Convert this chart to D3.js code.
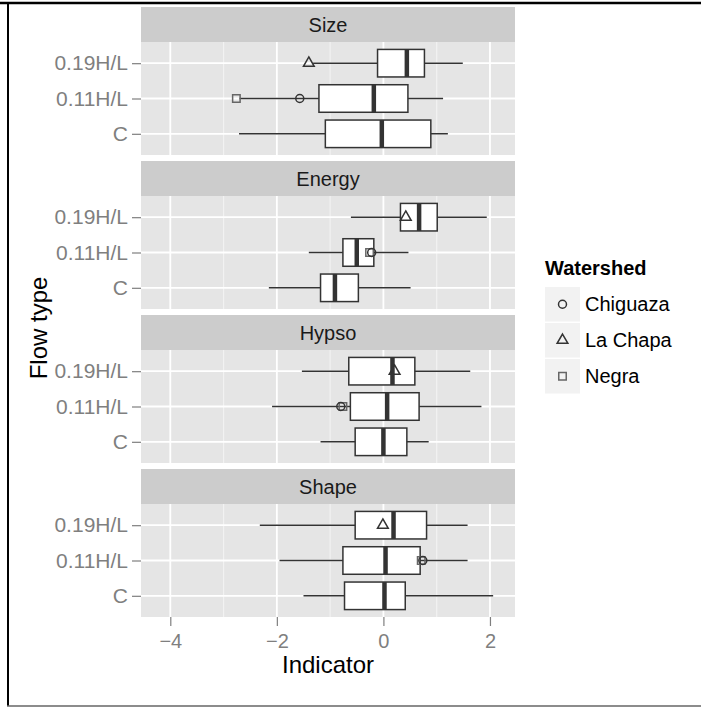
<!DOCTYPE html>
<html lang="en">
<head>
<meta charset="utf-8">
<title>Boxplots by flow type</title>
<script src="https://cdn.jsdelivr.net/npm/d3@7"></script>
<style>
  body { margin: 0; background: #fff; }
  svg { display: block; font-family: "Liberation Sans", Arial, sans-serif; }
</style>
</head>
<body>
<script>
// categories
var facets = ["Size", "Energy", "Hypso", "Shape"];
var flowTypes = ["0.19H/L", "0.11H/L", "C"];
var watersheds = ["Chiguaza", "La Chapa", "Negra"];
var xTicks = [-4, -2, 0, 2];
var xMinor = [-3, -1, 1];

// box stats per facet, rows in flowTypes order: [lowWhisker, q1, median, q3, highWhisker]
var sizeStats   = [[-1.32, -0.11, 0.44, 0.77, 1.49], [-2.70, -1.21, -0.18, 0.46, 1.12], [-2.71, -1.09, -0.03, 0.89, 1.21]];
var energyStats = [[-0.61, 0.32, 0.67, 1.01, 1.94], [-1.40, -0.76, -0.50, -0.18, 0.47], [-2.15, -1.18, -0.91, -0.47, 0.51]];
var hypsoStats  = [[-1.53, -0.65, 0.17, 0.59, 1.63], [-2.09, -0.62, 0.07, 0.67, 1.84], [-1.18, -0.53, 0.00, 0.44, 0.85]];
var shapeStats  = [[-2.32, -0.53, 0.19, 0.81, 1.58], [-1.95, -0.76, 0.04, 0.69, 1.58], [-1.50, -0.73, 0.02, 0.41, 2.06]];
var allStats = [sizeStats, energyStats, hypsoStats, shapeStats];

// watershed points: [facet, flow type, watershed, value]
var points = [
  ["Size", "0.19H/L", "La Chapa", -1.40],
  ["Size", "0.11H/L", "Negra", -2.76],
  ["Size", "0.11H/L", "Chiguaza", -1.57],
  ["Energy", "0.19H/L", "La Chapa", 0.42],
  ["Energy", "0.11H/L", "Negra", -0.26],
  ["Energy", "0.11H/L", "Chiguaza", -0.22],
  ["Hypso", "0.19H/L", "La Chapa", 0.21],
  ["Hypso", "0.11H/L", "Negra", -0.76],
  ["Hypso", "0.11H/L", "Chiguaza", -0.80],
  ["Shape", "0.19H/L", "La Chapa", -0.01],
  ["Shape", "0.11H/L", "Negra", 0.71],
  ["Shape", "0.11H/L", "Chiguaza", 0.74]
];

var w = 701, h = 707;
var left = 141, right = 515;
var top0 = 7, stripH = 35, panelH = 113, gap = 6;
var ink = "#333";

var svg = d3.select("body").append("svg").attr("width", w).attr("height", h);

var x = d3.scaleLinear().domain([-4.55, 2.47]).range([left, right]);
var shapeScale = d3.scaleOrdinal().domain(watersheds)
  .range([d3.symbolCircle, d3.symbolTriangle, d3.symbolSquare]);
var shapeSize = d3.scaleOrdinal().domain(watersheds).range([50, 50, 56]);
var shapeColor = d3.scaleOrdinal().domain(watersheds).range(["#333", "#333", "#666"]);

facets.forEach(function(f, fi) {
  var sTop = top0 + fi * (stripH + panelH + gap);
  var pTop = sTop + stripH;
  var y = d3.scalePoint().domain(flowTypes).range([pTop, pTop + panelH]).padding(0.6);
  var boxH = y.step() * 0.78;
  var g = svg.append("g");

  // strip
  g.append("rect").attr("x", left).attr("y", sTop).attr("width", right - left).attr("height", stripH)
    .attr("fill", "#ccc");
  g.append("text").attr("x", (left + right) / 2).attr("y", sTop + stripH / 2 + 7)
    .attr("text-anchor", "middle").attr("font-size", "20px").attr("fill", "#1a1a1a").text(f);

  // panel
  g.append("rect").attr("x", left).attr("y", pTop).attr("width", right - left).attr("height", panelH)
    .attr("fill", "#e5e5e5");
  g.selectAll(".minor").data(xMinor).enter().append("line")
    .attr("x1", function(d) { return x(d); }).attr("x2", function(d) { return x(d); })
    .attr("y1", pTop).attr("y2", pTop + panelH)
    .attr("stroke", "#f2f2f2").attr("stroke-width", 1.2);
  g.selectAll(".major").data(xTicks).enter().append("line")
    .attr("x1", function(d) { return x(d); }).attr("x2", function(d) { return x(d); })
    .attr("y1", pTop).attr("y2", pTop + panelH)
    .attr("stroke", "#fff").attr("stroke-width", 1.8);
  g.selectAll(".hgrid").data(flowTypes).enter().append("line")
    .attr("x1", left).attr("x2", right)
    .attr("y1", function(d) { return y(d); }).attr("y2", function(d) { return y(d); })
    .attr("stroke", "#fff").attr("stroke-width", 1.8);

  // boxes
  var stats = allStats[fi];
  var box = g.selectAll(".box").data(stats).enter().append("g");
  box.append("line")
    .attr("x1", function(d) { return x(d[0]); }).attr("x2", function(d) { return x(d[4]); })
    .attr("y1", function(d, i) { return y(flowTypes[i]); })
    .attr("y2", function(d, i) { return y(flowTypes[i]); })
    .attr("stroke", ink).attr("stroke-width", 1.5);
  box.append("rect")
    .attr("x", function(d) { return x(d[1]); })
    .attr("width", function(d) { return x(d[3]) - x(d[1]); })
    .attr("y", function(d, i) { return y(flowTypes[i]) - boxH / 2; })
    .attr("height", boxH)
    .attr("fill", "#fff").attr("stroke", ink).attr("stroke-width", 1.5);
  box.append("line")
    .attr("x1", function(d) { return x(d[2]); }).attr("x2", function(d) { return x(d[2]); })
    .attr("y1", function(d, i) { return y(flowTypes[i]) - boxH / 2; })
    .attr("y2", function(d, i) { return y(flowTypes[i]) + boxH / 2; })
    .attr("stroke", ink).attr("stroke-width", 4.5);

  // watershed points
  g.selectAll(".pt").data(points.filter(function(p) { return p[0] === f; })).enter()
    .append("path")
    .attr("transform", function(p) { return "translate(" + x(p[3]) + "," + y(p[1]) + ")"; })
    .attr("d", function(p) { return d3.symbol().type(shapeScale(p[2])).size(shapeSize(p[2]))(); })
    .attr("fill", "none").attr("stroke", function(p) { return shapeColor(p[2]); })
    .attr("stroke-width", 1.5);

  // y axis
  var ya = g.append("g").attr("transform", "translate(" + left + ",0)")
    .call(d3.axisLeft(y).tickSize(9).tickPadding(4));
  ya.select(".domain").remove();
  ya.selectAll("line").attr("stroke", "#7f7f7f").attr("stroke-width", 1.2);
  ya.selectAll("text").attr("font-size", "21px").attr("fill", "#7f7f7f")
    .attr("font-family", "'Liberation Sans', Arial, sans-serif");

  // x axis under last panel
  if (fi === facets.length - 1) {
    var xa = g.append("g").attr("transform", "translate(0," + (pTop + panelH) + ")")
      .call(d3.axisBottom(x).tickValues(xTicks).tickFormat(d3.format("d")).tickSize(9).tickPadding(8));
    xa.select(".domain").remove();
    xa.selectAll("line").attr("stroke", "#7f7f7f").attr("stroke-width", 1.2);
    xa.selectAll("text").attr("font-size", "20px").attr("fill", "#7f7f7f")
      .attr("font-family", "'Liberation Sans', Arial, sans-serif");
  }
});

// axis titles
svg.append("text").attr("x", (left + right) / 2).attr("y", 673)
  .attr("text-anchor", "middle").attr("font-size", "24px").attr("fill", "#000").text("Indicator");
svg.append("text").attr("transform", "translate(47,328) rotate(-90)")
  .attr("text-anchor", "middle").attr("font-size", "24px").attr("fill", "#000").text("Flow type");

// legend
var lg = svg.append("g").attr("transform", "translate(545,0)");
lg.append("text").attr("x", 0).attr("y", 275).attr("font-size", "20px").attr("font-weight", "bold")
  .attr("fill", "#000").text("Watershed");
var key = lg.selectAll(".key").data(watersheds).enter().append("g")
  .attr("transform", function(d, i) { return "translate(0," + (287 + i * 36) + ")"; });
key.append("rect").attr("width", 35).attr("height", 34.5).attr("fill", "#f2f2f2");
key.append("path").attr("transform", "translate(17.5,17.25)")
  .attr("d", function(d) { return d3.symbol().type(shapeScale(d)).size(shapeSize(d))(); })
  .attr("fill", "none").attr("stroke", function(d) { return shapeColor(d); }).attr("stroke-width", 1.5);
key.append("text").attr("x", 40).attr("y", 17.25 + 7).attr("font-size", "20px").attr("fill", "#000")
  .text(function(d) { return d; });

// frame lines of the cropped figure
svg.append("line").attr("x1", 0).attr("x2", w).attr("y1", 3).attr("y2", 3)
  .attr("stroke", "#000").attr("stroke-width", 2.5);
svg.append("line").attr("x1", 8).attr("x2", 8).attr("y1", 2).attr("y2", 706)
  .attr("stroke", "#000").attr("stroke-width", 2);
svg.append("line").attr("x1", 7).attr("x2", w).attr("y1", 706).attr("y2", 706)
  .attr("stroke", "#666").attr("stroke-width", 1.5);
</script>
</body>
</html>
